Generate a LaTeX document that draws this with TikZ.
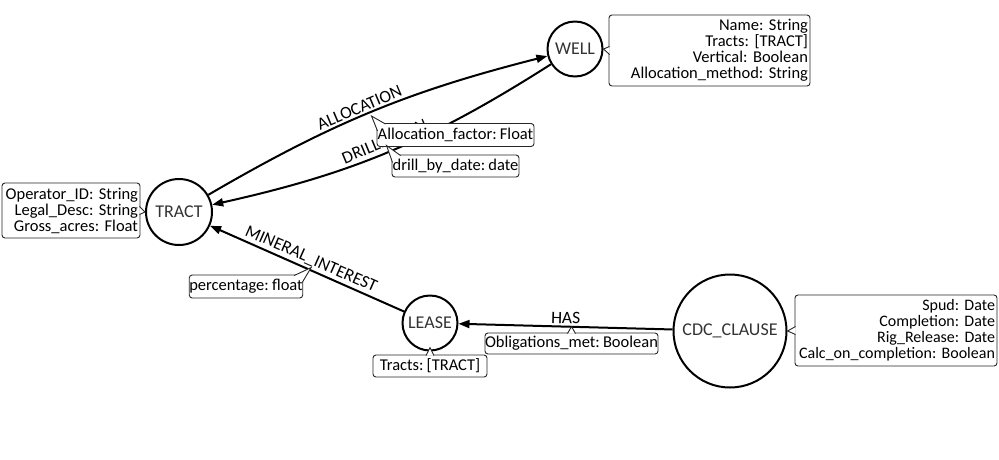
\documentclass[tikz,border=0pt]{standalone}
\usepackage{fontspec}
\setmainfont{Carlito}[WordSpace=0.85]
\usetikzlibrary{arrows.meta,calc}
\newcommand\boxnotch[3]{%
  \fill[white] (#2) -- (#1) -- (#3) -- cycle;
  \draw[notchline] (#2) -- (#1) -- (#3);}
\begin{document}
\frenchspacing
\begin{tikzpicture}[x=1pt,y=1pt,
  entity/.style={circle, draw=black, line width=2pt, minimum size=#1, inner sep=0pt,
    font=\fontsize{18}{20}\selectfont, text=black!80},
  propbox/.style={draw=black!85, line width=0.9pt, rounded corners=3pt, fill=white,
    inner sep=0pt, font=\fontsize{16.5}{16}\selectfont\frenchspacing},
  notchline/.style={draw=black!85, line width=0.9pt},
  edge/.style={line width=2pt, -{Triangle[length=11pt,width=8pt]}},
  elabel/.style={font=\fontsize{17.5}{18}\selectfont, sloped, above, inner sep=2pt}
]
\useasboundingbox (0,0) rectangle (999,-459);

% entities
\node[entity=66pt] (tract) at (179,-212) {TRACT};
\node[entity=55pt] (well) at (575,-49) {WELL};
\node[entity=55pt] (lease) at (430,-323) {LEASE};
\node[entity=113pt] (cdc) at (730,-331) {CDC\_CLAUSE};

% relationships
\draw[edge] (tract) to[bend left=8] node[elabel, pos=0.47] (alloclbl) {ALLOCATION} (well);
\draw[edge] (well) to[bend left=10] node[elabel, pos=0.5] (drilllbl) {DRILLED\_ON} (tract);
\draw[edge] (lease) -- node[elabel] (minlbl) {MINERAL\_INTEREST} (tract);
\draw[edge] (cdc) -- node[elabel] (haslbl) {HAS} (lease);

% property boxes of the entities
\node[propbox, minimum width=138pt, minimum height=55pt, text width=134pt, align=right]
  (tractprops) at (71,-210.5) {Operator\_ID: String\\Legal\_Desc: String\\Gross\_acres: Float};
\node[propbox, minimum width=201pt, minimum height=71pt, text width=197pt, align=right]
  (wellprops) at (709.5,-50.5) {Name: String\\Tracts: [TRACT]\\Vertical: Boolean\\Allocation\_method: String};
\node[propbox, minimum width=202pt, minimum height=71pt, text width=198pt, align=right,
  font=\fontsize{16}{16}\selectfont\frenchspacing]
  (cdcprops) at (896,-330.5) {Spud: Date\\Completion: Date\\Rig\_Release: Date\\Calc\_on\_completion:~Boolean};
\node[propbox, minimum width=114pt, minimum height=22pt]
  (leaseprops) at (430,-366) {Tracts: [TRACT]};

% property boxes of the relationships
\node[propbox, minimum width=157pt, minimum height=23pt]
  (allocprops) at (455.5,-135) {Allocation\_factor: Float};
\node[propbox, minimum width=127pt, minimum height=22pt]
  (drillprops) at (455.5,-166) {drill\_by\_date: date};
\node[propbox, minimum width=112pt, minimum height=23pt]
  (minprops) at (246,-286.5) {percentage: float};
\node[propbox, minimum width=173pt, minimum height=21pt]
  (hasprops) at (571.5,-343.5) {Obligations\_met: Boolean};

% pointers
\boxnotch{tract.west}{$(tractprops.east)+(-1,4)$}{$(tractprops.east)+(-1,-4)$}
\boxnotch{well.east}{$(wellprops.west)+(1,4)$}{$(wellprops.west)+(1,-4)$}
\boxnotch{cdc.east}{$(cdcprops.west)+(1,4)$}{$(cdcprops.west)+(1,-4)$}
\boxnotch{$(leaseprops.north)+(0,7)$}{$(leaseprops.north)+(-4,-1)$}{$(leaseprops.north)+(4,-1)$}
\boxnotch{$(hasprops.north)+(0,6)$}{$(hasprops.north)+(-4,-1)$}{$(hasprops.north)+(4,-1)$}
\boxnotch{$(allocprops.north west)+(-5,7)$}{$(allocprops.north west)+(9,-1)$}{$(allocprops.north west)+(1,-8)$}
\boxnotch{$(drillprops.north west)+(-5,9)$}{$(drillprops.north west)+(9,-1)$}{$(drillprops.north west)+(1,-8)$}
\boxnotch{$(minprops.north east)+(8,7)$}{$(minprops.north east)+(-9,-1)$}{$(minprops.north east)+(-1,-8)$}
\end{tikzpicture}
\end{document}
